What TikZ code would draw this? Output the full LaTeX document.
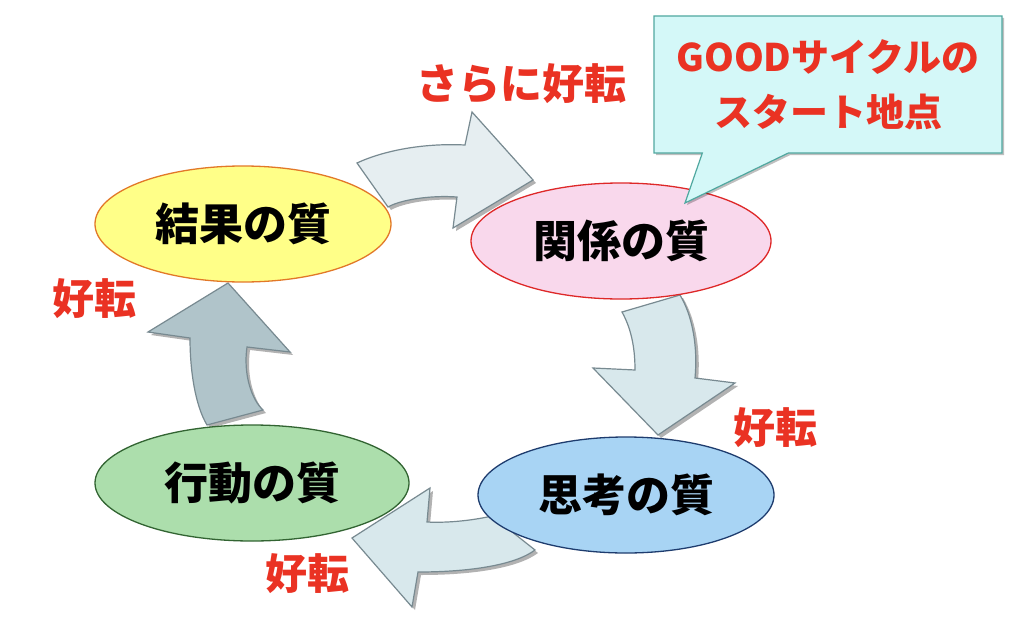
\documentclass[tikz,border=0pt]{standalone}
\usepackage{fontspec}
\newfontfamily\jpheavy{Noto Sans CJK JP Black}
\newfontfamily\jpbold{Noto Sans CJK JP Bold}
\usepackage{xcolor}
\definecolor{goodred}{RGB}{234,50,35}
\definecolor{resultyellow}{RGB}{255,255,136}
\definecolor{resultedge}{RGB}{226,120,40}
\definecolor{relationpink}{RGB}{249,216,236}
\definecolor{relationedge}{RGB}{222,40,40}
\definecolor{thinkblue}{RGB}{168,212,244}
\definecolor{thinkedge}{RGB}{30,60,110}
\definecolor{actiongreen}{RGB}{172,222,172}
\definecolor{actionedge}{RGB}{50,100,50}
\definecolor{arrowlight}{RGB}{216,232,236}
\definecolor{arrowpale}{RGB}{230,238,241}
\definecolor{arrowdark}{RGB}{176,196,202}
\definecolor{arrowedge}{RGB}{120,138,145}
\definecolor{calloutfill}{RGB}{212,248,248}
\definecolor{calloutedge}{RGB}{80,168,160}
\usepackage{tikz}
\usetikzlibrary{shapes.geometric}
\usetikzlibrary{shapes.callouts}
\usetikzlibrary{shadows}
\newcommand{\heightquality}{116pt}
\tikzset{
    quality/.style={ellipse, draw, line width=1.3pt, minimum height=\heightquality, inner sep=0pt,
        font=\jpheavy\fontsize{44}{44}\selectfont},
    better/.style={text=goodred, inner sep=0pt, font=\jpheavy\fontsize{42}{42}\selectfont},
    cyclearrow/.style={draw=arrowedge, line width=1.2pt,
        drop shadow={shadow xshift=3pt, shadow yshift=-3pt, fill=black, opacity=.3}},
    startbox/.style={rectangle callout, draw=calloutedge, fill=calloutfill, line width=1.2pt,
        minimum width=348pt, minimum height=137pt, inner sep=0pt, callout pointer width=86pt,
        text=goodred, align=center, font=\jpheavy\fontsize{38}{55}\selectfont,
        drop shadow={shadow xshift=2pt, shadow yshift=-2pt, fill=black, opacity=.25}}
}
\begin{document}
\begin{tikzpicture}[x=1pt, y=-1pt]
    \useasboundingbox[fill=white] (0,0) rectangle (1024,626);

    \filldraw[cyclearrow, fill=arrowpale]
      (357,163) .. controls (385,150) and (425,143) .. (465,145) -- (472,112) -- (533,180)
      -- (453,228) -- (457,197) .. controls (430,195) and (400,200) .. (388,207) -- cycle;
    \filldraw[cyclearrow, fill=arrowlight]
      (622,312) .. controls (632,330) and (635,350) .. (635,370) -- (593,368) -- (658,435)
      -- (735,383) -- (695,378) .. controls (698,345) and (692,315) .. (680,295) -- cycle;
    \filldraw[cyclearrow, fill=arrowlight]
      (492,516) .. controls (470,521) and (445,523) .. (427,522) -- (430,488) -- (352,538)
      -- (412,607) -- (418,572) .. controls (470,572) and (515,565) .. (535,550) -- cycle;
    \filldraw[cyclearrow, fill=arrowdark]
      (207,425) .. controls (195,405) and (190,370) .. (190,338) -- (148,332) -- (228,283)
      -- (290,352) -- (247,347) .. controls (243,375) and (252,400) .. (263,410) -- cycle;

    \node[quality, fill=resultyellow, draw=resultedge, minimum width=296pt] (result) at (243,224) {結果の質};
    \node[quality, fill=relationpink, draw=relationedge, minimum width=300pt] (relation) at (621,241) {関係の質};
    \node[quality, fill=thinkblue, draw=thinkedge, minimum width=296pt] (think) at (626,495) {思考の質};
    \node[quality, fill=actiongreen, draw=actionedge, minimum width=314pt] (action) at (252,483) {行動の質};

    \node[better] (better-top) at (521,84) {さらに好転};
    \node[better] (better-right) at (775,428) {好転};
    \node[better] (better-bottom) at (307,574) {好転};
    \node[better] (better-left) at (94,299) {好転};

    \node[startbox, callout absolute pointer={(685,203)}] (goodcycle) at (828,84.5)
      {GOODサイクルの\\スタート地点};
\end{tikzpicture}
\end{document}
